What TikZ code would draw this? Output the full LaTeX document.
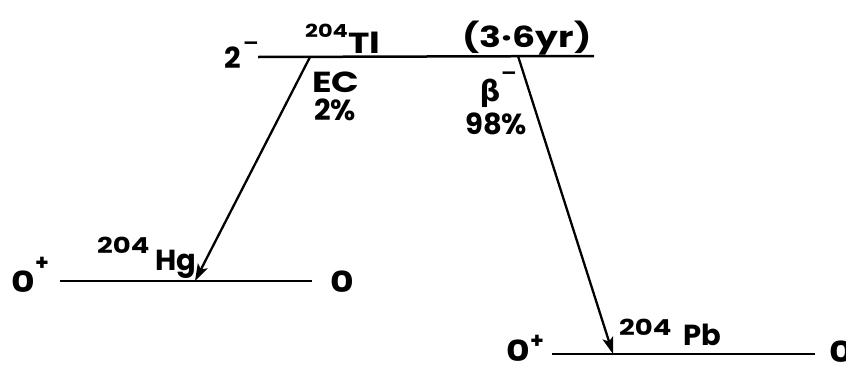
\documentclass[tikz,border=0pt]{standalone}
\usepackage{fontspec}
\setmainfont{Poppins}
\newfontfamily\dvfont{DejaVu Sans}
\usetikzlibrary{arrows.meta}
\tikzset{
  lvl/.style={line width=2.5pt},
  decay/.style={line width=2.3pt,-{Stealth[length=17pt,width=11pt,inset=4pt]}},
  txt/.style={inner sep=0pt,font=\fontsize{29}{31}\selectfont\bfseries},
  sup/.style={inner sep=0pt,font=\fontsize{22}{24}\selectfont\bfseries},
  ssup/.style={inner sep=0pt,font=\fontsize{18}{20}\selectfont\bfseries},
  bw/.style={anchor=base west},
}
\newcommand{\wide}[1]{\scalebox{1.25}[1]{#1}}
\begin{document}
\begin{tikzpicture}[x=1pt,y=-1pt]
\useasboundingbox (0,0) rectangle (846,370);
% levels
\coordinate (t1) at (258,57); \coordinate (t2) at (594,56);
\coordinate (h1) at (60,281); \coordinate (h2) at (312,281);
\coordinate (p1) at (552,354); \coordinate (p2) at (815,354);
\draw[lvl] (t1) -- (t2);
\draw[lvl] (h1) -- (h2);
\draw[lvl] (p1) -- (p2);
% decays
\coordinate (ecS) at (310,57); \coordinate (ecE) at (195,281);
\coordinate (bS) at (518,56); \coordinate (bE) at (613,354);
\draw[decay] (ecS) -- (ecE);
\draw[decay] (bS) -- (bE);
% top labels
\node[txt,bw] (tspin) at (224,68) {2};
\node[ssup] (tspinm) at (251,46) {\wide{–}};
\node[ssup,bw] (tA) at (305,37) {\wide{204}};
\node[txt,bw] (tEl) at (348,53) {\wide{Tl}};
\node[txt] (thalf) at (527,38) {\wide{(3·6yr)}};
% decay labels
\node[txt,bw] (ec) at (312,92) {\wide{EC}};
\node[txt,bw] (ecp) at (314,120) {2\%};
\node[txt] (beta) at (490,93) {\dvfont\bfseries β};
\node[ssup] (betam) at (509,76) {\wide{–}};
\node[txt,bw] (bp) at (465,134) {98\%};
% Hg labels
\node[txt,bw] (hspin) at (11,292) {\wide{0}};
\node[sup] (hspinp) at (42,264) {+};
\node[sup,bw] (hA) at (97,253) {\wide{204}};
\node[txt,bw] (hEl) at (155,270) {Hg};
\node[txt,bw] (hspin2) at (330,292) {\wide{0}};
% Pb labels
\node[txt,bw] (pspin) at (506,361) {\wide{0}};
\node[sup] (pspinp) at (537,342) {+};
\node[sup,bw] (pA) at (619,335) {\wide{204}};
\node[txt,bw] (pEl) at (683,345) {Pb};
\node[txt,bw] (pspin2) at (829,362) {\wide{0}};
\end{tikzpicture}
\end{document}
